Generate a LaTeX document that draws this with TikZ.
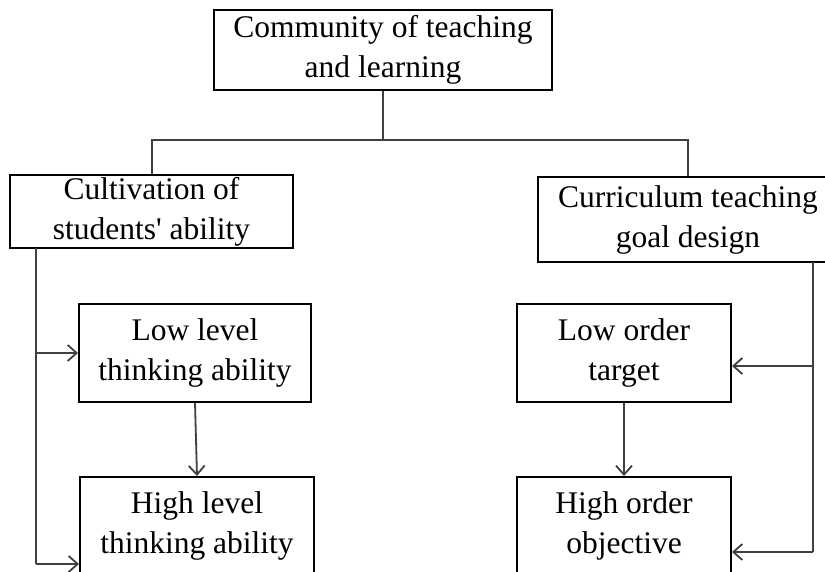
\documentclass[tikz,border=0pt]{standalone}
\usepackage{fontspec}
\setmainfont{Liberation Serif}
\usetikzlibrary{arrows.meta}
\begin{document}
\begin{tikzpicture}[x=1pt,y=-1pt,
  box/.style={draw=black, line width=2pt, rectangle, align=center, inner sep=0pt,
    font=\fontsize{31.5}{40}\selectfont},
  conn/.style={draw=black!75, line width=1.8pt},
  arr/.style={conn, -{Straight Barb[length=9pt,width=16pt,line width=1.8pt]}}
]
\useasboundingbox (0,0) rectangle (825,571);
\node[box, minimum width=338pt, minimum height=80pt] (top) at (383,50) {Community of teaching\\and learning};
\node[box, minimum width=283pt, minimum height=73pt] (left) at (151.5,211.5) {Cultivation of\\students\textquotesingle{} ability};
\node[box, minimum width=300pt, minimum height=85pt] (right) at (688,219.5) {Curriculum teaching\\goal design};
\node[box, minimum width=232pt, minimum height=98pt] (low) at (195,353) {Low level\\thinking ability};
\node[box, minimum width=234pt, minimum height=98pt] (high) at (197,526) {High level\\thinking ability};
\node[box, minimum width=214pt, minimum height=98pt] (lowo) at (624,353) {Low order\\target};
\node[box, minimum width=214pt, minimum height=98pt] (higho) at (624,526) {High order\\objective};
% tree connectors
\coordinate (j) at (383,140);
\coordinate (jl) at (152,140);
\coordinate (jr) at (688,140);
\draw[conn] (top.south) -- (j);
\draw[conn] (left.north -| jl) -- (jl) -- (jr) -- (right.north);
% left bracket
\coordinate (L1) at (36,248);
\coordinate (Lm) at (36,353);
\coordinate (Lb) at (36,564);
\draw[conn] (L1) -- (Lb);
\draw[arr] (Lm) -- (low.west);
\draw[arr] (Lb) -- (high.west |- Lb);
% right bracket
\coordinate (R1) at (813,262);
\coordinate (Rm) at (813,366);
\coordinate (Rb) at (813,552);
\draw[conn] (R1) -- (Rb);
\draw[arr] (Rm) -- (lowo.east |- Rm);
\draw[arr] (Rb) -- (higho.east |- Rb);
% vertical arrows
\draw[arr] (low.south) -- (high.north);
\draw[arr] (lowo.south) -- (higho.north);
\end{tikzpicture}
\end{document}
